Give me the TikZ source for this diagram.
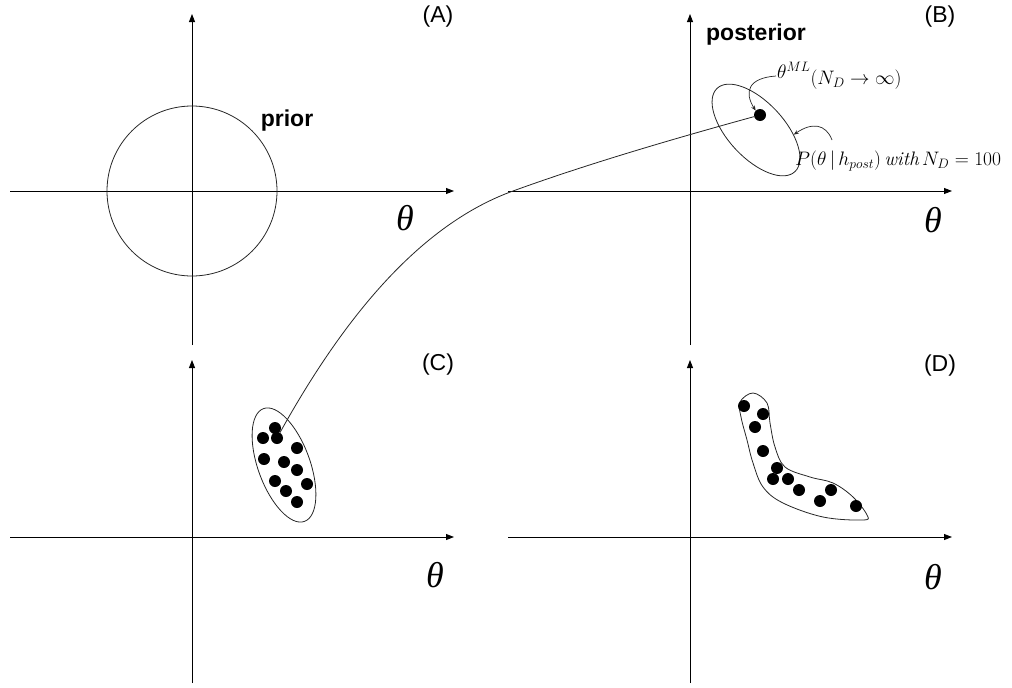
\documentclass[tikz,border=0pt]{standalone}
\usepackage{fix-cm}
\usepackage{fontspec}
\setsansfont{Liberation Sans}
\newfontfamily\axisfont{Liberation Serif}
\usetikzlibrary{arrows.meta,shapes.geometric}

\begin{document}
\begin{tikzpicture}[x=1pt,y=-1pt]
\tikzset{
  axisline/.style={draw=black,line width=0.9pt,-{Triangle[length=8pt,width=6pt]}},
  region/.style={draw=black!85,line width=0.8pt,ellipse,inner sep=0pt},
  sample/.style={circle,fill=black,minimum size=12pt,inner sep=0pt},
  panellabel/.style={font=\sffamily\fontsize{23}{27}\selectfont},
  axislabel/.style={font=\axisfont\itshape\fontsize{36}{40}\selectfont},
  curvelabel/.style={font=\sffamily\bfseries\fontsize{23}{27}\selectfont},
  formula/.style={font=\fontsize{19.5}{24}\selectfont,inner sep=1pt},
  pointer/.style={draw=black!85,line width=0.7pt,-{Stealth[length=5pt,width=4pt]}},
  link/.style={draw=black!85,line width=0.8pt}
}
\useasboundingbox (0,0) rectangle (1012,688);
% axes of the four panels
\foreach \ox/\oy/\ybot in {192/191/345, 690/191/345, 192/537/683, 690/537/683}{
  \draw[axisline] (\ox-182,\oy) -- (\ox+262,\oy);
  \draw[axisline] (\ox,\ybot) -- (\ox,\oy-177);
}
\node[panellabel] (labA) at (438,17) {(A)};
\node[panellabel] (labB) at (940,17) {(B)};
\node[panellabel] (labC) at (438,365) {(C)};
\node[panellabel] (labD) at (940,366) {(D)};
\node[axislabel] (thA) at (405,218) {θ};
\node[axislabel] (thB) at (933,220) {θ};
\node[axislabel] (thC) at (435,575) {θ};
\node[axislabel] (thD) at (933,577) {θ};
% (A) prior
\node[region,circle,minimum size=170pt] (prior) at (192,191) {};
\node[curvelabel] (priortxt) at (287,121) {prior};
% (B) posterior
\node[curvelabel] (posttxt) at (756,35) {posterior};
\node[region,rotate=-47,minimum width=114pt,minimum height=56pt] (post) at (756,130) {};
\node[sample] (mldot) at (760,115) {};
\node[formula,anchor=west] (mltxt) at (776,76) {$\theta^{ML}$\raisebox{-6pt}{$(N_D\rightarrow\infty)$}};
\node[formula,anchor=west] (ptxt) at (794,161) {$P(\theta\,|\,h_{post})\,\mathit{with}\,N_D=100$};
\coordinate (ptail) at (832,140);
\draw[pointer] (mltxt.west) .. controls (748,78) and (744,92) .. (mldot.north west);
\draw[pointer] (ptail) .. controls (826,124) and (812,122) .. (post.40);
% (C) samples
\node[region,rotate=-70,minimum width=120pt,minimum height=52pt] (cloud) at (284,465) {};
\foreach \x/\y [count=\i] in {275/428, 263/438, 277/438, 297/448, 264/459, 284/462,
    297/470, 275/481, 307/484, 286/491, 297/502}
  \node[sample] (c\i) at (\x,\y) {};
% (D) samples
\draw[link] plot[smooth cycle,tension=0.6] coordinates {(740,402) (753,393) (767,403) (770,423)
  (775,447) (785,467) (810,477) (833,483) (853,497) (867,515) (863,520) (823,517)
  (783,503) (763,487) (753,463) (747,440) (741,417)};
\foreach \x/\y [count=\i] in {744/406, 763/414, 755/427, 763/451, 777/468, 773/479,
    788/479, 799/490, 820/501, 831/490, 856/506}
  \node[sample] (d\i) at (\x,\y) {};
% from the ML point to the samples
\coordinate (cross) at (513,191);
\draw[link] (mldot) .. controls (680,137) and (590,163) .. (cross)
  .. controls (419,225) and (343,319) .. (c3);
\end{tikzpicture}
\end{document}
